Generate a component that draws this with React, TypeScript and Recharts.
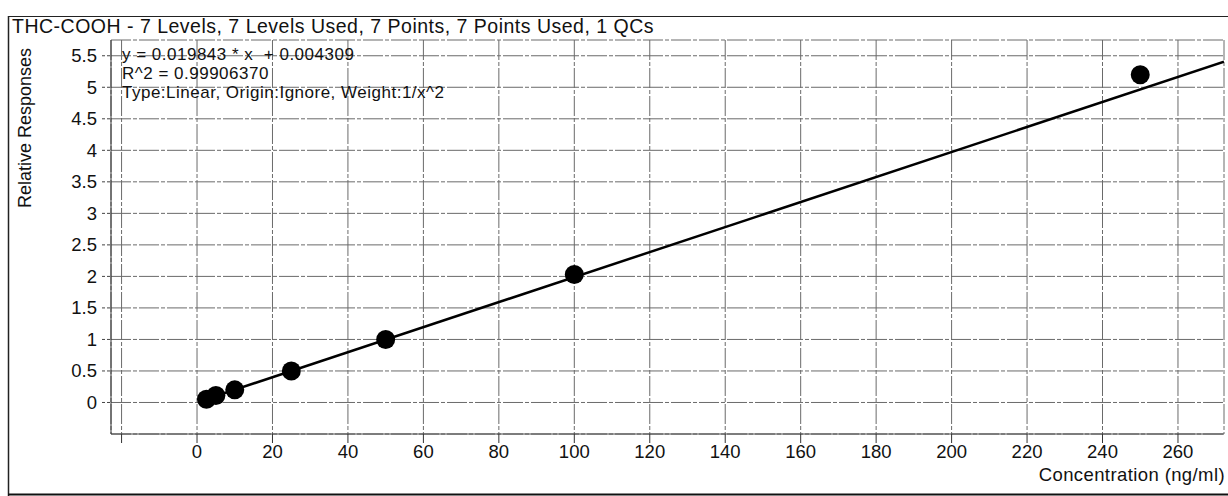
import React from "react";
import { CartesianGrid, ComposedChart, Scatter, XAxis, YAxis } from "recharts";

// calibration standards (concentration ng/ml, relative response)
const concentrations = [2.5, 5, 10, 25, 50, 100, 250];
const responses = [0.05, 0.11, 0.2, 0.5, 1.0, 2.03, 5.2];

// fitted line y = 0.019843 * x + 0.004309, read at both ends
const fitX = [2.5, 272.2];
const fitY = [0.054, 5.406];

const xTicks = [-20, 0, 20, 40, 60, 80, 100, 120, 140, 160, 180, 200, 220, 240, 260];
const yTicks = [-0.5, 0, 0.5, 1, 1.5, 2, 2.5, 3, 3.5, 4, 4.5, 5, 5.5];

const titleText = "THC-COOH - 7 Levels, 7 Levels Used, 7 Points, 7 Points Used, 1 QCs";
const equationLines = [
  "y = 0.019843 * x  + 0.004309",
  "R^2 = 0.99906370",
  "Type:Linear, Origin:Ignore, Weight:1/x^2",
];

const points = concentrations.map((x, i) => ({ x, y: responses[i] }));
const fitLine = fitX.map((x, i) => ({ x, y: fitY[i] }));

const FONT = "'Liberation Sans', Arial, sans-serif";
const W = 1228;
const H = 496;
const PLOT_LEFT = 111;
const PLOT_BOTTOM = 434;

function XTick(props: any) {
  const { payload } = props;
  const cx = payload.coordinate;
  return (
    <g>
      <line x1={cx} x2={cx} y1={PLOT_BOTTOM} y2={PLOT_BOTTOM + 9} stroke="#333" strokeWidth={1} />
      {payload.value !== -20 && (
        <text x={cx} y={PLOT_BOTTOM + 24} textAnchor="middle" fontSize={18.5} fontFamily={FONT} fill="#111">
          {payload.value}
        </text>
      )}
    </g>
  );
}

function YTick(props: any) {
  const { payload } = props;
  if (payload.value === -0.5) return <g />;
  const cy = payload.coordinate;
  return (
    <g>
      <line x1={PLOT_LEFT - 9} x2={PLOT_LEFT} y1={cy} y2={cy} stroke="#444" strokeWidth={1} strokeDasharray="3 2" />
      <text x={PLOT_LEFT - 14} y={cy + 6.5} textAnchor="end" fontSize={18.5} fontFamily={FONT} fill="#111">
        {payload.value}
      </text>
    </g>
  );
}

const Dot = (props: any) => <circle cx={props.cx} cy={props.cy} r={9.5} fill="#000" />;
const NoDot = () => <g />;

export default function App() {
  return (
    <div style={{ position: "absolute", left: 0, top: 0, width: W, height: H, background: "#fff" }}>
      <ComposedChart width={W} height={H} margin={{ top: 40, right: 4, bottom: 0, left: 0 }}>
        <CartesianGrid stroke="#6a6a6a" strokeWidth={1} strokeDasharray="20 2 4 2" />
        <XAxis
          type="number"
          dataKey="x"
          domain={[-22.8, 272.2]}
          ticks={xTicks}
          allowDataOverflow
          height={62}
          axisLine={{ stroke: "#444" }}
          tickLine={false}
          tick={<XTick />}
          interval={0}
        />
        <YAxis
          type="number"
          dataKey="y"
          domain={[-0.5, 5.75]}
          ticks={yTicks}
          allowDataOverflow
          width={111}
          axisLine={{ stroke: "#333" }}
          tickLine={false}
          tick={<YTick />}
          interval={0}
        />
        <Scatter
          data={fitLine}
          line={{ stroke: "#000", strokeWidth: 2.5 }}
          shape={NoDot}
          isAnimationActive={false}
        />
        <Scatter data={points} shape={Dot} isAnimationActive={false} />
      </ComposedChart>
      <svg
        width={W}
        height={H}
        style={{ position: "absolute", left: 0, top: 0, pointerEvents: "none" }}
        fontFamily={FONT}
      >
        <line x1={8} x2={W} y1={16.5} y2={16.5} stroke="#222" strokeWidth={1.2} />
        <line x1={8.5} x2={8.5} y1={16} y2={H} stroke="#222" strokeWidth={1.5} />
        <line x1={8} x2={W} y1={494.5} y2={494.5} stroke="#111" strokeWidth={2} />
        <text x={12} y={33} fontSize={19.5} letterSpacing={0.5} fill="#111">{titleText}</text>
        {equationLines.map((t, i) => (
          <text
            key={i}
            x={122}
            y={60 + i * 19}
            fontSize={17}
            letterSpacing={0.5}
            fill="#111"
            style={{ whiteSpace: "pre" }}
          >
            {t}
          </text>
        ))}
        <text
          x={0}
          y={0}
          transform="translate(31, 128) rotate(-90)"
          textAnchor="middle"
          fontSize={18}
          fill="#111"
        >
          Relative Responses
        </text>
        <text x={1225} y={481} textAnchor="end" fontSize={18.5} letterSpacing={0.4} fill="#111">
          Concentration (ng/ml)
        </text>
      </svg>
    </div>
  );
}
